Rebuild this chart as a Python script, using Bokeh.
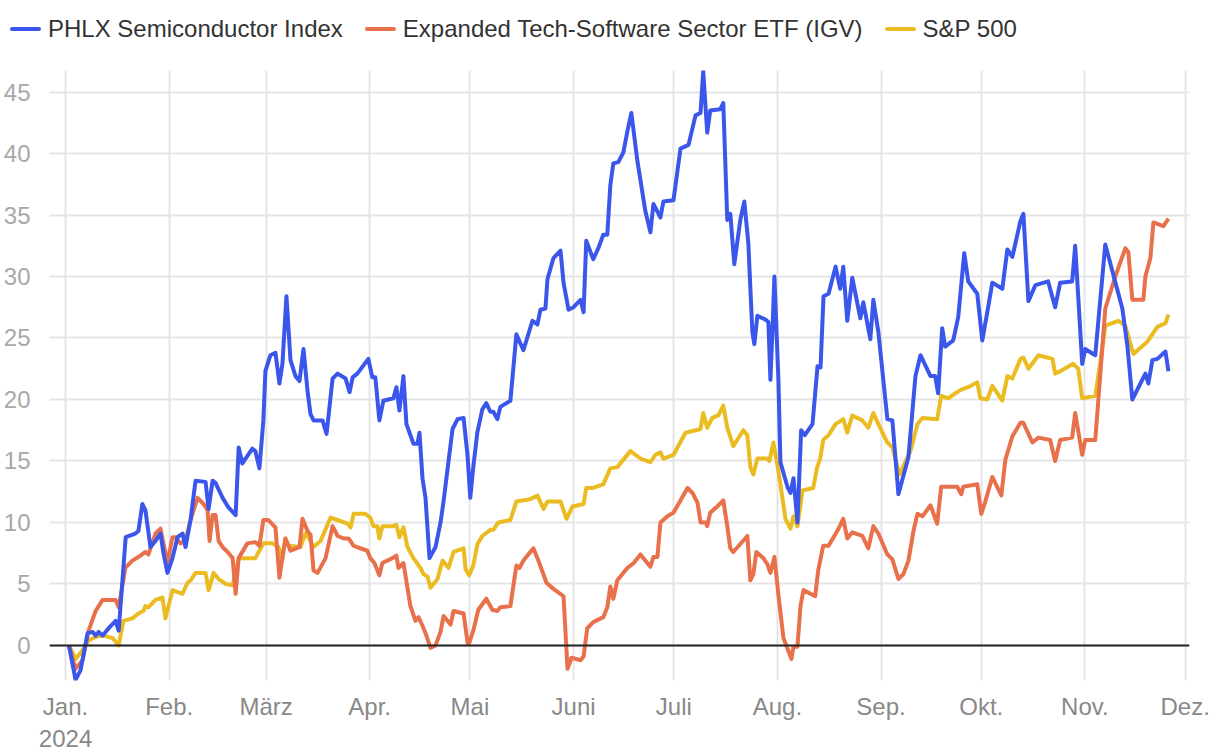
from bokeh.plotting import figure
from bokeh.layouts import column
from bokeh.models import FixedTicker, Span, Range1d, Div
from bokeh.embed import file_html
from bokeh.resources import INLINE

# ---- data (days since 2024-01-01, performance in %) ----
semi_days = [1, 3, 4.5, 6.6, 8.1, 9.0, 9.9, 11.1, 12.9, 15.0, 15.9, 18.0, 20.9, 21.8, 23.0, 23.9, 25.4, 26.9,
             28.4, 29.3, 30.5, 32.0, 33.5, 35.0, 35.9, 37.4, 38.9, 41.9, 42.8, 44.0, 44.9, 47.0, 48.8, 50.9,
             51.8, 52.9, 55.9, 56.8, 58.0, 59.2, 59.8, 61.3, 62.8, 64.0, 64.9, 66.1, 67.3, 68.8, 70.0, 71.2,
             72.4, 73.3, 74.2, 76.9, 78.1, 79.9, 81.4, 83.8, 85.0, 85.9, 87.3, 90.6, 91.8, 92.7, 93.9, 95.1,
             98.1, 99.0, 99.9, 101.1, 102.0, 104.1, 105.3, 105.9, 106.8, 107.7, 108.9, 110.7, 112.2, 113.1,
             114.6, 115.8, 117.3, 119.1, 120.3, 121.1, 122.0, 123.2, 124.7, 125.9, 127.1, 128.0, 129.2, 130.1,
             133.1, 134.9, 137.0, 139.7, 141.2, 142.1, 143.6, 144.2, 146.0, 148.1, 149.0, 150.5, 152.0, 154.1,
             155.0, 155.8, 157.9, 159.4, 160.9, 162.1, 163.0, 163.9, 165.4, 166.9, 168.1, 169.3, 171.1, 173.5,
             175.0, 175.9, 178.0, 178.9, 181.9, 184.0, 186.4, 188.5, 190.0, 190.8, 192.0, 192.9, 195.9, 196.8,
             198.0, 198.9, 200.1, 201.9, 203.1, 204.3, 205.5, 206.1, 207.0, 209.4, 210.3, 210.9, 211.5, 212.1,
             213.3, 213.9, 216.0, 216.9, 217.8, 219.0, 220.1, 221.2, 223.5, 225.0, 225.9, 226.8, 228.3, 230.4,
             231.8, 232.7, 233.9, 235.4, 237.8, 238.7, 240.8, 241.7, 243.2, 245.9, 247.4, 249.2, 252.2, 254.3,
             255.8, 258.8, 260.2, 261.1, 262.3, 263.2, 265.6, 267.1, 268.9, 270.1, 272.8, 274.3, 275.8, 277.3,
             280.3, 281.8, 283.3, 285.7, 286.6, 288.1, 290.2, 294.0, 296.1, 297.6, 301.2, 302.1, 304.2, 305.1,
             308.1, 311.1, 316.2, 317.7, 319.2, 323.1, 324.0, 325.2, 326.7, 329.1, 330.0]
semi_vals = [0.0, -2.8, -2.0, 1.0, 1.1, 0.8, 1.1, 0.8, 1.4, 2.0, 1.2, 8.8, 9.1, 9.3, 11.5, 11.0, 8.0, 8.5,
             9.1, 7.5, 5.9, 7.1, 8.8, 9.1, 8.0, 10.2, 13.4, 13.3, 11.1, 13.4, 13.2, 12.0, 11.2, 10.6,
             16.1, 14.8, 16.0, 15.8, 14.4, 18.3, 22.3, 23.6, 23.8, 21.3, 22.9, 28.4, 23.2, 21.9, 21.5, 24.1,
             20.7, 18.8, 18.3, 18.3, 17.2, 21.7, 22.1, 21.7, 20.6, 21.8, 22.1, 23.3, 21.8, 21.8, 18.3, 19.9,
             20.1, 21.0, 19.1, 21.9, 18.0, 16.4, 16.4, 17.3, 13.6, 12.0, 7.1, 8.0, 10.0, 11.7,
             15.0, 17.6, 18.4, 18.5, 15.4, 12.0, 14.5, 17.3, 19.2, 19.7, 19.0, 19.0, 18.4, 19.4,
             19.9, 25.3, 24.0, 26.4, 26.1, 27.3, 27.4, 29.8, 31.5, 32.1, 29.5, 27.3, 27.5, 28.1,
             27.1, 32.9, 31.4, 32.3, 33.4, 33.4, 37.4, 39.2, 39.3, 40.1, 41.8, 43.3, 39.4, 35.3,
             33.6, 35.9, 34.8, 36.1, 36.2, 40.4, 40.7, 43.1, 43.3, 46.7, 41.7, 43.5, 43.6, 44.1,
             34.6, 35.1, 31.0, 34.6, 36.1, 32.7, 25.5, 24.5, 26.8, 26.5, 26.3, 21.6, 25.5, 30.0,
             21.6, 14.9, 12.9, 12.4, 13.6, 10.0, 17.5, 17.1, 18.0, 22.7, 22.6, 28.4, 28.6, 30.8,
             29.0, 30.8, 26.4, 29.9, 26.6, 27.9, 24.9, 28.1, 25.5, 18.4, 18.3, 12.3, 15.3, 21.9,
             23.6, 21.9, 21.9, 20.5, 25.8, 24.3, 24.8, 26.7, 31.9, 29.6, 28.6, 24.8, 27.1, 29.5,
             29.0, 32.2, 31.6, 34.5, 35.1, 28.0, 29.3, 29.6, 27.5, 29.5, 29.6, 32.5, 22.9, 24.1,
             23.6, 32.6, 27.4, 24.4, 20.0, 22.1, 21.3, 23.2, 23.3, 23.9, 22.3]

igv_days = [1, 3.0, 5.1, 6.9, 9.0, 11.1, 15.0, 15.9, 17.9, 20.0, 22.4, 23.9, 24.8, 26.9, 28.4, 29.3, 30.5,
            32.0, 32.9, 34.4, 35.9, 37.4, 39.5, 41.3, 42.5, 43.1, 44.0, 44.9, 45.8, 47.0, 48.8, 50.0, 50.9,
            51.8, 54.4, 56.8, 58.0, 59.2, 60.7, 62.8, 64.0, 65.2, 65.8, 67.3, 70.0, 70.9, 72.4, 73.3, 74.2,
            75.4, 77.8, 79.9, 81.4, 83.2, 84.7, 86.2, 90.3, 91.2, 92.4, 93.9, 94.8, 97.8, 99.0, 99.6, 101.1,
            102.3, 103.2, 104.7, 105.6, 106.8, 107.7, 109.2, 110.7, 112.2, 113.1, 115.2, 116.1, 119.1, 120.3,
            120.8, 122.0, 123.5, 125.9, 127.7, 129.2, 130.1, 133.1, 134.9, 135.8, 137.0, 140.0, 141.2, 143.9,
            146.0, 149.0, 150.2, 151.4, 154.1, 155.0, 156.1, 157.9, 160.9, 162.1, 163.0, 163.9, 165.1, 168.1,
            170.0, 172.0, 175.0, 175.9, 177.1, 178.0, 180.1, 181.9, 183.4, 186.1, 187.6, 189.1, 190.0, 191.5,
            192.0, 192.9, 195.0, 196.8, 198.0, 198.9, 199.8, 204.0, 204.9, 205.8, 206.7, 208.8, 210.0, 210.9,
            212.1, 213.3, 214.8, 217.2, 217.8, 219.0, 219.9, 220.8, 224.3, 225.2, 226.7, 228.3, 230.9, 232.7,
            233.9, 235.4, 238.4, 240.2, 241.7, 243.2, 245.9, 247.4, 249.2, 250.7, 252.2, 253.7, 254.9, 256.4,
            258.8, 260.8, 262.0, 266.8, 268.0, 268.6, 272.8, 274.0, 275.2, 277.3, 280.0, 281.2, 283.3, 285.7,
            286.6, 289.3, 291.1, 294.6, 296.1, 297.6, 301.2, 302.1, 304.2, 305.1, 308.1, 309.6, 311.1, 314.1,
            317.1, 318.0, 319.2, 322.5, 323.1, 324.6, 325.5, 328.5, 330.0]
igv_vals = [0.0, -1.9, -1.2, 1.2, 2.8, 3.7, 3.7, 3.1, 6.3, 6.9, 7.3, 7.6, 7.4, 9.1, 9.5, 8.3, 6.7,
            8.8, 8.8, 8.3, 8.5, 10.2, 12.0, 11.5, 11.0, 8.5, 10.6, 10.6, 8.5, 8.0, 7.5, 7.1, 4.2,
            7.1, 8.3, 8.4, 8.1, 10.2, 10.2, 9.6, 5.5, 7.7, 8.7, 7.7, 8.0, 10.3, 9.3, 9.0, 6.1,
            5.9, 7.1, 9.7, 8.9, 8.7, 8.7, 8.1, 7.7, 7.1, 6.7, 5.7, 6.7, 7.1, 7.3, 6.3, 6.7,
            4.7, 3.2, 2.0, 2.3, 1.6, 1.0, -0.2, 0.0, 1.1, 2.4, 1.7, 2.8, 2.6, 0.2,
            0.2, 1.2, 2.9, 3.8, 2.9, 2.8, 3.1, 3.2, 6.5, 6.3, 6.9, 7.9, 7.1, 5.1,
            4.6, 4.0, -1.9, -1.0, -1.2, -0.9, 1.4, 1.9, 2.3, 3.1, 4.8, 3.8, 5.3, 6.3,
            6.7, 7.4, 6.4, 7.2, 7.2, 10.0, 10.5, 10.8, 11.5, 12.8, 12.4, 11.6, 10.0, 10.0,
            9.7, 10.8, 11.3, 11.8, 9.7, 7.9, 7.6, 8.9, 5.3, 5.8, 7.6, 7.1, 6.6, 5.9,
            7.2, 4.1, 0.6, -1.1, -0.1, -0.1, 3.2, 4.5, 4.0, 6.1, 8.1, 8.1, 9.3, 10.3,
            8.7, 9.2, 8.9, 7.9, 9.7, 9.1, 7.4, 7.0, 5.4, 5.8, 6.9, 9.3, 10.7, 10.5,
            11.4, 9.9, 12.9, 12.9, 12.3, 12.9, 13.1, 10.7, 11.7, 13.7, 12.2, 15.1, 17.0, 18.1,
            18.1, 16.5, 16.9, 16.7, 15.0, 16.7, 16.9, 18.9, 15.5, 16.7, 16.7, 22.0, 27.4, 30.0,
            32.3, 32.0, 28.1, 28.1, 30.0, 31.5, 34.4, 34.1, 34.7]

spx_days = [1, 3.0, 5.1, 6.9, 9.0, 11.4, 14.1, 15.9, 17.3, 20.0, 21.8, 23.3, 23.9, 24.8, 26.9, 29.0, 29.9,
            32.0, 35.0, 36.5, 37.4, 38.9, 41.9, 42.8, 44.3, 45.8, 47.9, 50.0, 51.8, 54.4, 56.8, 59.2, 61.9,
            63.7, 64.9, 65.8, 66.7, 70.3, 71.8, 72.7, 74.2, 76.3, 79.3, 81.4, 84.4, 85.3, 86.2, 89.7, 91.2,
            92.1, 93.3, 93.9, 94.8, 98.1, 99.0, 99.9, 101.1, 102.3, 104.1, 106.2, 107.1, 108.3, 109.2, 111.3,
            112.8, 114.6, 116.1, 119.1, 119.7, 120.8, 122.0, 123.2, 124.7, 127.1, 128.0, 129.5, 133.1, 134.9,
            139.1, 141.2, 143.0, 144.2, 148.1, 149.9, 151.7, 155.0, 155.8, 157.6, 160.9, 163.0, 165.1, 169.0,
            172.0, 175.0, 176.5, 178.0, 178.9, 181.9, 185.5, 190.0, 190.8, 192.0, 193.5, 195.3, 196.8, 198.0,
            199.8, 202.8, 204.0, 204.9, 205.8, 207.0, 210.0, 210.6, 211.8, 213.3, 215.4, 216.9, 217.8, 219.0,
            220.5, 223.7, 224.9, 225.8, 226.7, 228.3, 230.4, 232.7, 233.9, 235.4, 238.4, 240.2, 241.7, 243.2,
            245.9, 247.4, 249.5, 252.8, 254.9, 256.4, 260.8, 262.0, 264.1, 266.8, 268.0, 270.1, 272.8, 273.7,
            275.8, 277.3, 280.3, 281.8, 283.3, 285.7, 286.6, 288.1, 291.1, 295.3, 296.1, 297.6, 301.5, 303.0,
            304.2, 308.1, 309.6, 311.1, 315.0, 317.1, 319.5, 323.7, 326.7, 329.1, 330.0]
spx_vals = [0.0, -1.1, -0.4, 0.4, 0.7, 0.8, 0.6, 0.0, 2.0, 2.2, 2.6, 2.8, 3.2, 3.1, 3.7, 3.9, 2.2,
            4.5, 4.2, 5.1, 5.3, 5.9, 5.9, 4.5, 5.9, 5.4, 5.0, 4.9, 7.1, 7.1, 7.1, 8.3, 8.3,
            8.0, 7.1, 8.7, 8.1, 8.0, 9.1, 8.8, 8.0, 8.5, 10.4, 10.2, 9.9, 9.6, 10.7, 10.7, 10.4,
            9.7, 9.7, 8.7, 9.7, 9.7, 9.8, 8.8, 9.6, 8.0, 7.1, 6.3, 5.8, 5.6, 4.7, 5.4,
            6.9, 6.3, 7.6, 7.9, 6.2, 5.7, 6.5, 8.2, 8.9, 9.4, 9.4, 10.0, 10.2, 11.7,
            11.9, 12.2, 11.1, 11.7, 11.7, 10.3, 11.3, 11.5, 12.8, 12.8, 13.1, 14.4, 14.5, 15.8,
            15.2, 14.9, 15.5, 15.7, 15.2, 15.5, 17.3, 17.6, 18.9, 17.7, 18.5, 18.7, 19.5, 17.7,
            16.2, 17.5, 17.1, 14.5, 13.9, 15.2, 15.2, 15.0, 16.5, 14.2, 10.3, 9.5, 10.5, 9.7,
            12.6, 12.8, 14.5, 15.2, 16.7, 17.1, 18.0, 18.4, 17.3, 18.7, 18.3, 17.7, 18.9, 18.0,
            16.5, 16.1, 13.9, 15.8, 18.0, 18.5, 18.4, 20.3, 20.1, 20.6, 20.8, 21.0, 21.4, 20.1,
            20.0, 21.1, 19.9, 21.9, 21.7, 23.3, 23.4, 22.5, 23.6, 23.3, 22.1, 22.3, 22.9, 22.5,
            20.1, 20.3, 23.0, 26.0, 26.4, 26.0, 23.7, 24.7, 25.9, 26.2, 26.9]

month_days = [0, 31, 60, 91, 121, 152, 182, 213, 244, 274, 305, 335]
month_labels = ["Jan.\n2024", "Feb.", "März", "Apr.", "Mai", "Juni", "Juli", "Aug.",
                "Sep.", "Okt.", "Nov.", "Dez."]
y_ticks = [0, 5, 10, 15, 20, 25, 30, 35, 40, 45]

series_names = ["PHLX Semiconductor Index", "Expanded Tech-Software Sector ETF (IGV)", "S&P 500"]
series_colors = ["#3b56ea", "#e8704b", "#ebbb22"]

FONT = "Liberation Sans"

# ---- legend strip above the chart ----
items_html = []
for i, (name, col) in enumerate(zip(series_names, series_colors)):
    gap = "0" if i == 0 else "22px"
    items_html.append(
        f'<span style="display:inline-flex;align-items:center;margin-left:{gap};">'
        f'<span style="display:inline-block;width:31px;height:4px;border-radius:2px;'
        f'background:{col};margin-right:7px;"></span>{name}</span>')
legend_div = Div(
    text=('<div style="font-family:\'Liberation Sans\',Arial,sans-serif;font-size:24px;color:#333333;'
          'white-space:nowrap;line-height:28px;padding:9px 0 0 10px;">' + "".join(items_html) + "</div>"),
    width=1204, height=50, margin=(0, 0, 0, 0))

# ---- main chart ----
p = figure(width=1204, height=690, output_backend="svg", toolbar_location=None,
           x_range=Range1d(-4.8, 336.3), y_range=Range1d(-2.85, 46.75),
           min_border_left=41, min_border_right=23, min_border_top=20, min_border_bottom=60)
p.frame_width = 1140
p.frame_height = 610
p.outline_line_color = None
p.background_fill_color = "white"
p.border_fill_color = "white"

p.xgrid.ticker = FixedTicker(ticks=month_days)
p.ygrid.ticker = FixedTicker(ticks=y_ticks)
for g in (p.xgrid, p.ygrid):
    g.grid_line_color = "#e5e5e5"
    g.grid_line_width = 2

p.xaxis.ticker = FixedTicker(ticks=month_days)
p.xaxis.major_label_overrides = {d: lab for d, lab in zip(month_days, month_labels)}
p.yaxis.ticker = FixedTicker(ticks=y_ticks)
for ax in (p.xaxis, p.yaxis):
    ax.axis_line_color = None
    ax.major_tick_line_color = None
    ax.minor_tick_line_color = None
    ax.major_label_text_font = FONT
    ax.major_label_text_font_size = "24px"
p.xaxis.major_label_text_color = "#888888"
p.yaxis.major_label_text_color = "#a8a8a8"
p.xaxis.major_label_standoff = 6
p.yaxis.major_label_standoff = 13

p.line(spx_days, spx_vals, line_color=series_colors[2], line_width=4, line_join="round")
p.line(igv_days, igv_vals, line_color=series_colors[1], line_width=4, line_join="round")
p.line(semi_days, semi_vals, line_color=series_colors[0], line_width=4, line_join="round")

p.add_layout(Span(location=0, dimension="width", line_color="#222222", line_width=2))

layout = column(legend_div, p, spacing=0)
open("out.html", "w").write(file_html(layout, INLINE))
